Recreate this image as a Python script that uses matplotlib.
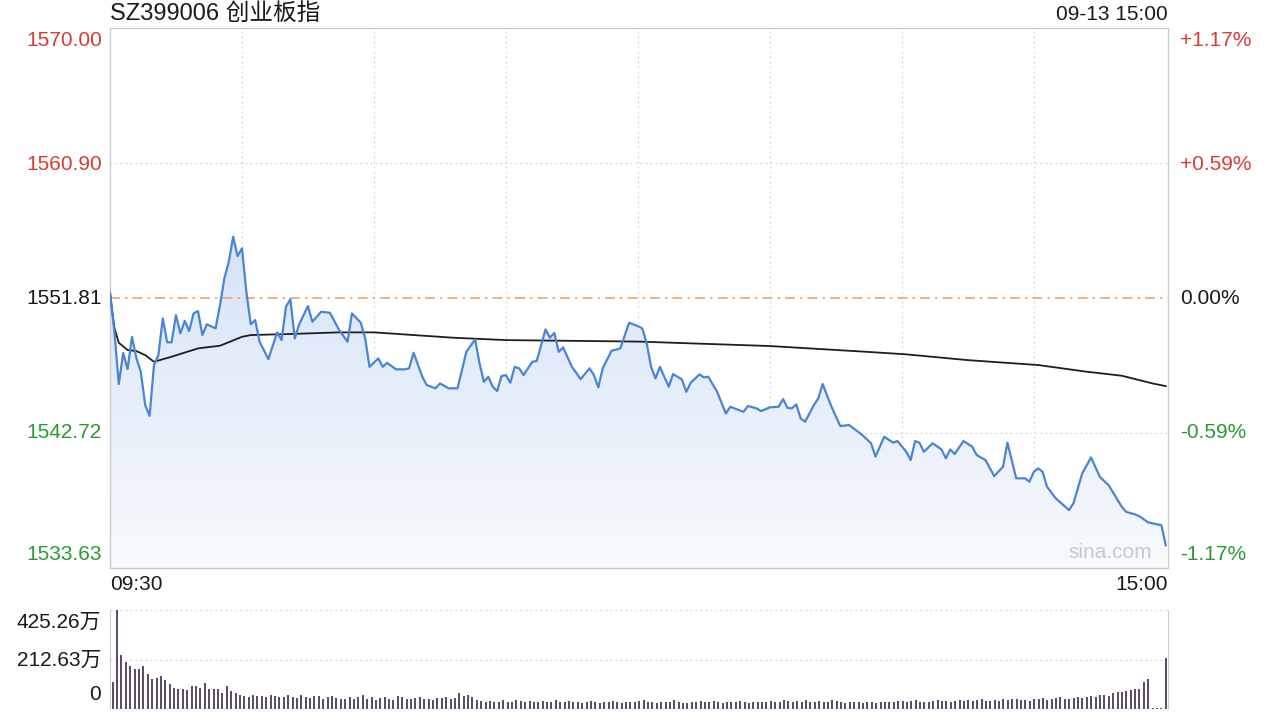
import numpy as np
import matplotlib.pyplot as plt
from matplotlib.patches import Polygon
from matplotlib.colors import LinearSegmentedColormap

plt.rcParams['font.family'] = ['Liberation Sans', 'Noto Sans CJK SC', 'DejaVu Sans']

# price trace, minute index from 09:30 (120 = 11:30/13:00, 240 = 15:00)
minutes = [0, 1, 2, 3, 4, 5, 6, 7, 8, 9, 10, 11, 12, 13, 14, 15, 16, 17, 18, 19, 20, 21, 22,
           24, 25, 26, 27, 28, 29, 30, 31, 32, 33, 34, 36, 38, 39, 40, 41, 42, 43,
           45, 46, 48, 50, 52, 54, 55, 57, 58, 59, 61, 62, 63, 65, 67, 68, 69, 71, 72, 74, 75, 77, 79,
           81, 83, 84, 85, 86, 87, 88, 89, 90, 91, 92, 93, 94, 96, 97, 99, 100, 101, 102, 103,
           105, 107, 109, 110, 111, 112, 114, 116, 118, 120, 121, 122, 123, 124, 125, 127, 128,
           130, 131, 132, 134, 135, 136, 138, 140, 141, 144, 145, 147, 148, 150, 152, 153, 154,
           155, 156, 157, 158, 160, 161, 162, 164, 166, 168, 171, 173, 174, 176, 178, 179,
           181, 182, 183, 184, 185, 187, 189, 190, 191, 192, 194, 196, 197, 199,
           201, 203, 204, 206, 208, 209, 210, 211, 212, 213, 215, 218, 219,
           221, 223, 225, 227, 230, 231, 233, 234, 236, 239, 240]
prices = [1552.17, 1549.54, 1546.02, 1548.11, 1547.03, 1549.20, 1547.77, 1546.85, 1544.60, 1543.88,
          1547.30, 1547.97, 1550.44, 1548.83, 1548.83, 1550.66, 1549.43, 1550.28, 1549.59, 1550.78,
          1550.93, 1549.32, 1550.04, 1549.77, 1551.34, 1553.14, 1554.25, 1555.94, 1554.64, 1555.16,
          1552.23, 1550.04, 1550.33, 1548.87, 1547.70, 1549.50, 1548.98, 1551.22, 1551.74, 1549.10,
          1550.04, 1551.27, 1550.21, 1550.89, 1550.82, 1549.70, 1548.87, 1550.78, 1550.15, 1549.10,
          1547.18, 1547.75, 1547.18, 1547.45, 1547.01, 1547.01, 1547.08, 1548.13, 1546.51, 1545.95,
          1545.73, 1546.06, 1545.73, 1545.73, 1548.19, 1549.03, 1547.41, 1546.17, 1546.51, 1545.84,
          1545.55, 1546.56, 1546.62, 1546.11, 1547.18, 1547.08, 1546.62, 1547.52, 1547.57, 1549.70,
          1549.14, 1549.47, 1548.19, 1548.49, 1547.18, 1546.35, 1547.08, 1546.62, 1545.80, 1547.08,
          1548.26, 1548.42, 1550.15, 1549.92, 1549.77, 1548.76, 1547.18, 1546.40, 1547.18, 1545.84,
          1546.69, 1546.33, 1545.50, 1546.11, 1546.67, 1546.47, 1546.51, 1545.50, 1544.04, 1544.49,
          1544.15, 1544.54, 1544.38, 1544.20, 1544.45, 1544.49, 1545.01, 1544.42, 1544.38, 1544.65,
          1543.71, 1543.48, 1544.60, 1545.05, 1546.02, 1544.49, 1543.19, 1543.26, 1542.59, 1542.03,
          1541.13, 1542.47, 1542.07, 1542.18, 1541.46, 1540.90, 1542.18, 1542.07, 1541.46, 1542.03,
          1541.62, 1541.02, 1541.62, 1541.30, 1542.18, 1541.80, 1541.24, 1540.90, 1539.82, 1540.45,
          1542.07, 1539.67, 1539.67, 1539.44, 1540.11, 1540.34, 1540.11, 1539.10, 1538.32, 1537.53,
          1537.98, 1540.00, 1541.08, 1539.77, 1539.21, 1537.75, 1537.41, 1537.24, 1537.12, 1536.70,
          1536.51, 1535.16]

# average price line
avg_minutes = [0, 1, 2, 4, 6, 8, 10, 14, 20, 25, 30, 32, 41, 52, 60, 78, 90, 105, 120,
               150, 172, 181, 195, 211, 222, 230, 237, 240]
avg_prices = [1552.17, 1549.80, 1548.80, 1548.31, 1548.24, 1547.97, 1547.52, 1547.86, 1548.42,
              1548.60, 1549.20, 1549.32, 1549.39, 1549.50, 1549.50, 1549.14, 1548.98, 1548.93,
              1548.88, 1548.58, 1548.19, 1548.02, 1547.63, 1547.30, 1546.85, 1546.58, 1546.06,
              1545.88]

# volume per minute, in 万
volume = [116, 425, 234, 201, 183, 173, 173, 183, 149, 130,
          133, 140, 123, 109, 92, 88, 88, 81, 98, 98,
          92, 112, 88, 88, 88, 67, 98, 78, 67, 62,
          55, 52, 60, 55, 55, 52, 60, 55, 50, 52,
          58, 50, 48, 62, 52, 46, 55, 57, 42, 50,
          56, 47, 45, 42, 50, 44, 52, 58, 45, 52,
          38, 46, 52, 43, 40, 56, 50, 44, 42, 47,
          50, 42, 44, 40, 48, 46, 52, 42, 47, 70,
          55, 60, 52, 38, 33, 30, 36, 30, 32, 38,
          30, 28, 40, 33, 30, 34, 28, 32, 36, 30,
          32, 38, 28, 30, 35, 32, 30, 27, 28, 35,
          30, 26, 30, 28, 33, 30, 26, 29, 32, 28,
          34, 40, 30, 28, 25, 32, 30, 28, 38, 30,
          27, 26, 32, 30, 34, 28, 30, 33, 28, 26,
          32, 30, 28, 33, 29, 27, 30, 32, 28, 31,
          35, 32, 30, 38, 35, 30, 33, 29, 37, 30,
          28, 35, 32, 30, 38, 34, 31, 26, 30, 28,
          32, 25, 30, 28, 27, 32, 30, 28, 30, 33,
          36, 30, 34, 38, 32, 30, 28, 35, 38, 33,
          36, 30, 34, 38, 36, 40, 35, 38, 42, 36,
          34, 40, 36, 44, 38, 42, 45, 40, 38, 36,
          42, 45, 48, 40, 44, 46, 50, 42, 45, 48,
          52, 46, 50, 55, 52, 58, 62, 55, 68, 72,
          75, 78, 80, 84, 88, 116, 130, 4, 3, 3, 218]

pre_close = 1551.81
y_lo, y_hi = 1533.63, 1570.00
left_labels = ['1570.00', '1560.90', '1551.81', '1542.72', '1533.63']
right_labels = ['+1.17%', '+0.59%', '0.00%', '-0.59%', '-1.17%']
vol_labels = ['425.26万', '212.63万', '0']

RED = '#d83a34'
GREEN = '#2a9a34'
GRID = '#d3d7dd'
EDGE = '#c9cdd3'

fig = plt.figure(figsize=(12.8, 7.2), dpi=100)
fig.patch.set_facecolor('white')

def fx(px):
    return px / 1280

def fy(py):
    return 1 - py / 720

ax = fig.add_axes([fx(110), fy(568), fx(1058), 540 / 720])
vax = fig.add_axes([fx(110), fy(709), fx(1058), 99 / 720])

# price panel
t = np.array(minutes)
p = np.array(prices)
grad = np.linspace(0, 1, 256).reshape(-1, 1)
cmap = LinearSegmentedColormap.from_list('fill', ['#f8fafd', '#d5e3f7'])
im = ax.imshow(grad, extent=[0, 240, y_lo, 1556.5], origin='lower', aspect='auto',
               cmap=cmap, zorder=1)
poly = Polygon(np.column_stack([np.r_[t[0], t, t[-1]], np.r_[y_lo, p, y_lo]]),
               closed=True, facecolor='none', edgecolor='none')
ax.add_patch(poly)
im.set_clip_path(poly)

ax.plot(t, p, color='#4a84d6', lw=1.6, zorder=4)
ax.plot(avg_minutes, avg_prices, color='#1e1e1e', lw=1.3, zorder=3)
ax.axhline(pre_close, color='#eea56a', lw=1.2, dashes=(6, 3, 1.5, 3), zorder=2)

for m in range(30, 240, 30):
    ax.axvline(m, color=GRID, lw=0.9, ls=(0, (1.5, 2.5)), zorder=0)
for v in [1560.90, 1542.72]:
    ax.axhline(v, color=GRID, lw=0.9, ls=(0, (1.5, 2.5)), zorder=0)

ax.set_xlim(0, 240.5)
ax.set_ylim(y_lo, y_hi)
ax.set_xticks([])
ax.set_yticks([])
for s in ax.spines.values():
    s.set_color(EDGE)
    s.set_linewidth(1.0)

ax.text(0.985, 0.012, 'sina.com', transform=ax.transAxes, ha='right', va='bottom',
        fontsize=15, color='#c6c8cc', zorder=5)

# volume panel
vax.vlines(np.arange(len(volume)), 0, volume, color='#4b3a5c', lw=1.3)
for v in [425.26, 212.63]:
    vax.axhline(v, color=GRID, lw=0.9, ls=(0, (1.5, 2.5)), zorder=0)
vax.set_xlim(-0.6, 240.5)
vax.set_ylim(0, 425.26)
vax.set_xticks([])
vax.set_yticks([])
for side in ['top', 'bottom']:
    vax.spines[side].set_visible(False)
for side in ['left', 'right']:
    vax.spines[side].set_color(EDGE)

# texts
fig.text(fx(110), fy(14), 'SZ399006 创业板指', ha='left', va='center', fontsize=17, color='#1a1a1a')
fig.text(fx(1168), fy(15), '09-13 15:00', ha='right', va='center', fontsize=15, color='#1a1a1a')

label_y = [40, 164, 298, 433, 555]
label_c = [RED, RED, '#1a1a1a', GREEN, GREEN]
for lab, y, c in zip(left_labels, label_y, label_c):
    fig.text(fx(102), fy(y), lab, ha='right', va='center', fontsize=15, color=c)
for lab, y, c in zip(right_labels, label_y, label_c):
    fig.text(fx(1180), fy(y), lab, ha='left', va='center', fontsize=15, color=c)

fig.text(fx(110), fy(585), '09:30', ha='left', va='center', fontsize=15, color='#1a1a1a')
fig.text(fx(1168), fy(585), '15:00', ha='right', va='center', fontsize=15, color='#1a1a1a')

for lab, y in zip(vol_labels, [622, 660, 695]):
    fig.text(fx(101), fy(y), lab, ha='right', va='center', fontsize=15, color='#1a1a1a')

fig.savefig('out.png', dpi=100)
